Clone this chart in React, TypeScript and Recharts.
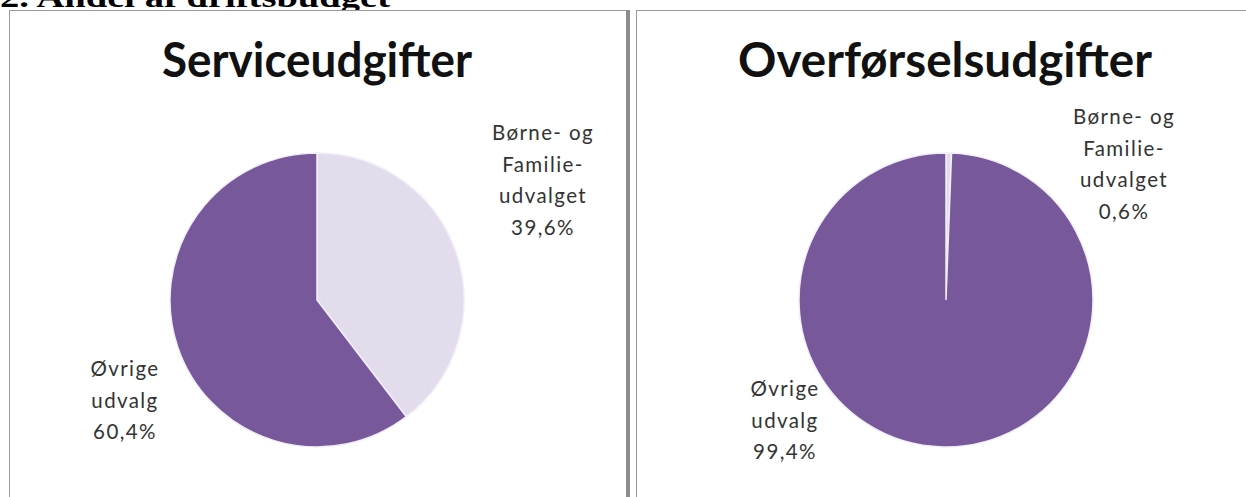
import React from "react";
import { PieChart, Pie, Cell } from "recharts";

const pageTitle = "2. Andel af driftsbudget";
const chartTitles = ["Serviceudgifter", "Overførselsudgifter"];
const categories = ["Børne- og Familie-udvalget", "Øvrige udvalg"];
const serviceValues = [39.6, 60.4];
const transferValues = [0.6, 99.4];
const labelLinesTop = ["Børne- og", "Familie-", "udvalget"];
const labelLinesBottom = ["Øvrige", "udvalg"];
const colors = ["#e3dcec", "#77589b"];

const fmt = (v: number) => v.toFixed(1).replace(".", ",") + "%";

const serviceData = categories.map((name, i) => ({ name, value: serviceValues[i] }));
const transferData = categories.map((name, i) => ({ name, value: transferValues[i] }));

const labelFont = "Lato, 'Open Sans', sans-serif";

function LabelBlock({ x, y, lines }: { x: number; y: number; lines: string[] }) {
  return (
    <text x={x} y={y} textAnchor="middle" fontFamily={labelFont} fontSize={20.5} fill="#333" letterSpacing={1.4}>
      {lines.map((l, i) => (
        <tspan key={i} x={x} dy={i === 0 ? 0 : 31.5}>
          {l}
        </tspan>
      ))}
    </text>
  );
}

export default function App() {
  return (
    <div style={{ position: "absolute", left: 0, top: 0, width: 1246, height: 497, background: "#fff", overflow: "hidden" }}>
      <svg width={1246} height={497} style={{ position: "absolute", left: 0, top: 0 }}>
        <text x={0} y={7} fontFamily="'Liberation Serif', serif" fontWeight="bold" fontSize={30} fill="#000" textLength={390} lengthAdjust="spacingAndGlyphs">
          {pageTitle}
        </text>
        <rect x={9.5} y={10.5} width={617} height={500} fill="#fff" stroke="#9a9a9a" strokeWidth={1} />
        <rect x={626} y={10} width={4} height={490} fill="#8c8c8c" />
        <rect x={636.5} y={10.5} width={620} height={500} fill="#fff" stroke="#9a9a9a" strokeWidth={1} />
      </svg>
      <div style={{ position: "absolute", left: 0, top: 0 }}>
        <PieChart width={1246} height={497} margin={{ top: 0, right: 0, bottom: 0, left: 0 }}>
          <Pie
            data={serviceData}
            dataKey="value"
            nameKey="name"
            cx={317}
            cy={300}
            outerRadius={147}
            startAngle={90}
            endAngle={-270}
            stroke="#f2eef7"
            strokeWidth={1.5}
            isAnimationActive={false}
          >
            {serviceData.map((d, i) => (
              <Cell key={d.name} fill={colors[i]} />
            ))}
          </Pie>
          <Pie
            data={transferData}
            dataKey="value"
            nameKey="name"
            cx={946}
            cy={300}
            outerRadius={147}
            startAngle={90}
            endAngle={-270}
            stroke="#f2eef7"
            strokeWidth={1.5}
            isAnimationActive={false}
          >
            {transferData.map((d, i) => (
              <Cell key={d.name} fill={colors[i]} />
            ))}
          </Pie>
        </PieChart>
      </div>
      <svg width={1246} height={497} style={{ position: "absolute", left: 0, top: 0, pointerEvents: "none" }}>
        <text x={317} y={77} textAnchor="middle" fontFamily={labelFont} fontWeight="bold" fontSize={47} fill="#111" textLength={310} lengthAdjust="spacingAndGlyphs">
          {chartTitles[0]}
        </text>
        <text x={945} y={77} textAnchor="middle" fontFamily={labelFont} fontWeight="bold" fontSize={47} fill="#111" textLength={414} lengthAdjust="spacingAndGlyphs">
          {chartTitles[1]}
        </text>
        <LabelBlock x={543} y={140} lines={[...labelLinesTop, fmt(serviceValues[0])]} />
        <LabelBlock x={125} y={376} lines={[...labelLinesBottom, fmt(serviceValues[1])]} />
        <LabelBlock x={1124} y={124} lines={[...labelLinesTop, fmt(transferValues[0])]} />
        <LabelBlock x={785} y={396} lines={[...labelLinesBottom, fmt(transferValues[1])]} />
      </svg>
    </div>
  );
}
